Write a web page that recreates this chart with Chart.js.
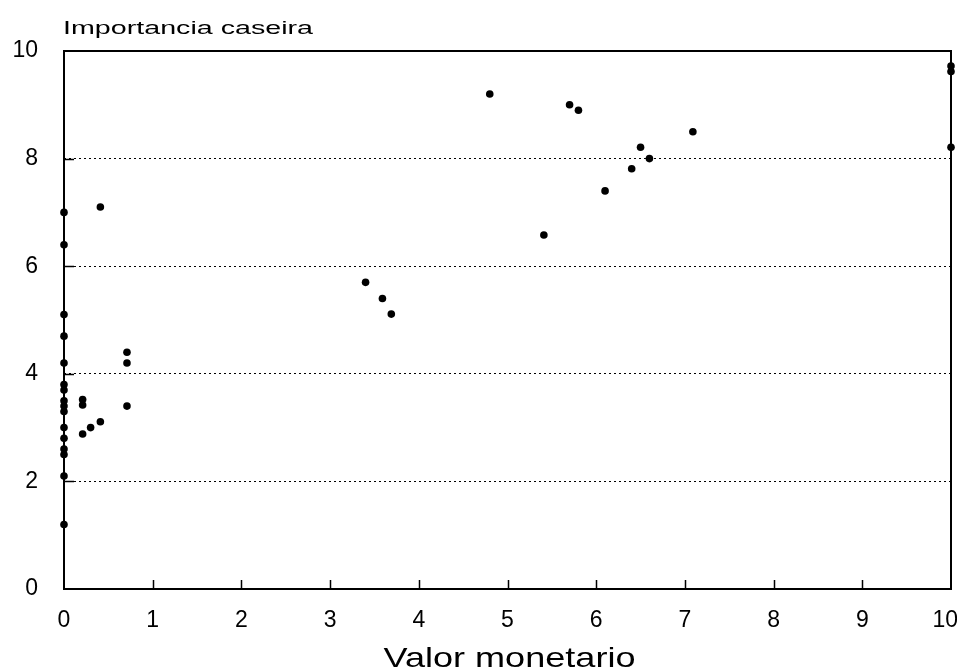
<!DOCTYPE html>
<html>
<head>
<meta charset="utf-8">
<script src="https://cdn.jsdelivr.net/npm/chart.js@4/dist/chart.umd.min.js"></script>
<style>
  html, body { margin: 0; padding: 0; background: #ffffff; }
  #wrap { width: 957px; height: 672px; }
</style>
</head>
<body>
<div id="wrap"><canvas id="c" width="957" height="672"></canvas></div>
<script>
// ---- data ----
const xTitle = "Valor monetario";
const yTitle = "Importancia caseira";
const xTickValues = [0, 1, 2, 3, 4, 5, 6, 7, 8, 9, 10];
const yTickValues = [0, 2, 4, 6, 8, 10];
const xValues = [
  0, 0, 0, 0, 0, 0, 0, 0, 0, 0, 0, 0, 0, 0, 0, 0,
  0.21, 0.21, 0.21, 0.30, 0.41, 0.41, 0.71, 0.71, 0.71,
  3.40, 3.59, 3.69,
  4.80, 5.41, 5.70, 5.80, 6.10, 6.40, 6.50, 6.60, 7.09,
  10, 10, 10
];
const yValues = [
  7.0, 6.4, 5.1, 4.7, 4.2, 3.8, 3.7, 3.5, 3.4, 3.3, 3.0, 2.8, 2.6, 2.5, 2.1, 1.2,
  3.52, 3.42, 2.88, 3.0, 3.11, 7.10, 3.40, 4.40, 4.20,
  5.70, 5.40, 5.11,
  9.20, 6.58, 9.00, 8.90, 7.40, 7.81, 8.21, 8.00, 8.50,
  9.72, 9.62, 8.21
];

const points = xValues.map((x, i) => ({ x: x, y: yValues[i] }));
const FONT = "'Liberation Sans', Arial, Helvetica, sans-serif";

function stretchedText(ctx, text, x, y, fontPx, targetW, align) {
  ctx.save();
  ctx.font = fontPx + "px " + FONT;
  ctx.fillStyle = "#000";
  ctx.textBaseline = "alphabetic";
  ctx.textAlign = "left";
  const w = ctx.measureText(text).width;
  const s = targetW / w;
  let x0 = x;
  if (align === "center") x0 = x - targetW / 2;
  ctx.translate(x0, y);
  ctx.scale(s, 1);
  ctx.fillText(text, 0, 0);
  ctx.restore();
}

const framePlugin = {
  id: "frame",
  afterDraw(chart) {
    const ctx = chart.ctx;
    const a = chart.chartArea;
    const xs = chart.scales.x, ys = chart.scales.y;
    ctx.save();
    ctx.strokeStyle = "#000";
    ctx.lineWidth = 2;
    ctx.strokeRect(a.left, a.top, a.right - a.left, a.bottom - a.top);
    ctx.lineWidth = 1.5;
    ctx.beginPath();
    xTickValues.forEach(v => {
      if (v === 0 || v === 10) return;
      const px = Math.round(xs.getPixelForValue(v)) + 0.5;
      ctx.moveTo(px, a.bottom);
      ctx.lineTo(px, a.bottom - 9);
    });
    yTickValues.forEach(v => {
      if (v === 0 || v === 10) return;
      const py = Math.round(ys.getPixelForValue(v)) + 0.5;
      ctx.moveTo(a.left, py);
      ctx.lineTo(a.left + 10, py);
    });
    ctx.stroke();
    ctx.restore();
    // axis titles
    stretchedText(ctx, yTitle, a.left - 1, 34, 17.5, 250, "left");
    stretchedText(ctx, xTitle, (a.left + a.right) / 2 + 2, 667, 28, 252, "center");
  }
};

new Chart(document.getElementById("c"), {
  type: "scatter",
  data: {
    datasets: [{
      data: points,
      backgroundColor: "#000",
      borderColor: "#000",
      borderWidth: 0,
      pointRadius: 3.8,
      pointHoverRadius: 3.8,
      clip: false
    }]
  },
  options: {
    responsive: false,
    animation: false,
    events: [],
    layout: { padding: { top: 51, right: 6, left: 0, bottom: 0 } },
    plugins: { legend: { display: false }, tooltip: { enabled: false }, title: { display: false } },
    scales: {
      x: {
        type: "linear",
        min: 0, max: 10,
        afterFit(scale) { scale.height = 83; scale.paddingLeft = 0; scale.paddingRight = 0; },
        afterBuildTicks(scale) { scale.ticks = xTickValues.map(v => ({ value: v })); },
        grid: { display: false, drawTicks: false },
        border: { display: false },
        ticks: {
          color: "#000", padding: 18, font: { family: FONT, size: 23 }, maxRotation: 0, autoSkip: false,
          callback: v => (v === 10 ? String(v) + "\u2002" : String(v))
        }
      },
      y: {
        type: "linear",
        min: 0, max: 10,
        afterFit(scale) { scale.width = 64; scale.paddingTop = 0; scale.paddingBottom = 0; },
        afterBuildTicks(scale) { scale.ticks = yTickValues.map(v => ({ value: v })); },
        grid: {
          drawTicks: false,
          color: ctx => (ctx.tick && (ctx.tick.value === 0 || ctx.tick.value === 10)) ? "rgba(0,0,0,0)" : "#000",
          lineWidth: 1
        },
        border: { display: false, dash: [2, 3] },
        ticks: { color: "#000", padding: 26, font: { family: FONT, size: 23 }, autoSkip: false }
      }
    }
  },
  plugins: [framePlugin]
});
</script>
</body>
</html>
